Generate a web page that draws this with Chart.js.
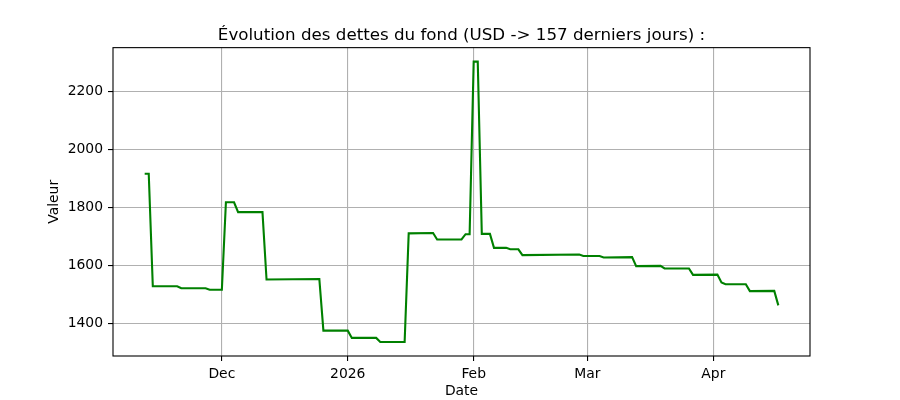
<!DOCTYPE html>
<html>
<head>
<meta charset="utf-8">
<script src="https://cdn.jsdelivr.net/npm/chart.js@4"></script>
<style>
  html, body { margin: 0; padding: 0; background: #fff; }
  #wrap { width: 900px; height: 400px; }
</style>
</head>
<body>
<div id="wrap"><canvas id="chart" width="900" height="400"></canvas></div>
<script>
// breakpoints of the daily series (the line is straight between them)
const dates = [
  '2025-11-12', '2025-11-13', '2025-11-14', '2025-11-20', '2025-11-21', '2025-11-27', '2025-11-28',
  '2025-12-01', '2025-12-02', '2025-12-04', '2025-12-05', '2025-12-11', '2025-12-12', '2025-12-25',
  '2025-12-26', '2026-01-01', '2026-01-02', '2026-01-08', '2026-01-09', '2026-01-15', '2026-01-16',
  '2026-01-22', '2026-01-23', '2026-01-29', '2026-01-30', '2026-01-31', '2026-02-01', '2026-02-02',
  '2026-02-03', '2026-02-05', '2026-02-06', '2026-02-09', '2026-02-10', '2026-02-12', '2026-02-13',
  '2026-02-27', '2026-02-28', '2026-03-04', '2026-03-05', '2026-03-12', '2026-03-13', '2026-03-19',
  '2026-03-20', '2026-03-26', '2026-03-27', '2026-04-02', '2026-04-03', '2026-04-04', '2026-04-09',
  '2026-04-10', '2026-04-16', '2026-04-17'
];
const debts = [
  1916, 1916, 1529, 1529, 1522, 1522, 1517,
  1517, 1818, 1818, 1784, 1784, 1552, 1554,
  1376, 1376, 1351, 1351, 1337, 1337, 1711,
  1712, 1690, 1690, 1708, 1708, 2302, 2302,
  1709, 1709, 1661, 1661, 1656, 1656, 1636,
  1638, 1633, 1633, 1628, 1629, 1598, 1599,
  1590, 1590, 1568, 1569, 1542, 1536, 1536,
  1512, 1513, 1463
];
const tickDates = ['2025-12-01', '2026-01-01', '2026-02-01', '2026-03-01', '2026-04-01'];
const tickLabels = ['Dec', '2026', 'Feb', 'Mar', 'Apr'];
const yTicks = [1400, 1600, 1800, 2000, 2200];

const DAY = 86400000;
const toDay = (s) => {
  const [y, m, d] = s.split('-').map(Number);
  return Date.UTC(y, m - 1, d) / DAY;
};

const points = dates.map((d, i) => ({ x: toDay(d), y: debts[i] }));
const tickDays = tickDates.map(toDay);

// matplotlib-like 5% margins
const xs = points.map(p => p.x);
const ys = points.map(p => p.y);
const xMin = Math.min(...xs), xMax = Math.max(...xs);
const yMin = Math.min(...ys), yMax = Math.max(...ys);
const xPad = (xMax - xMin) * 0.05;
const yPad = (yMax - yMin) * 0.05;

const FONT = 'DejaVu Sans';
const GRID = '#b0b0b0';

const frame = {
  id: 'frame',
  afterDatasetsDraw(chart) {
    const { ctx, chartArea: a } = chart;
    ctx.save();
    ctx.strokeStyle = '#000';
    ctx.lineWidth = 1.1;
    ctx.strokeRect(a.left, a.top, a.right - a.left, a.bottom - a.top);
    ctx.restore();
  }
};

new Chart(document.getElementById('chart').getContext('2d'), {
  type: 'line',
  data: {
    datasets: [{
      data: points,
      borderColor: '#008000',
      borderWidth: 2.1,
      pointRadius: 0,
      tension: 0,
      fill: false,
    }]
  },
  options: {
    responsive: false,
    animation: false,
    layout: { padding: { left: 0, right: 90, top: 0, bottom: 0 } },
    plugins: {
      legend: { display: false },
      tooltip: { enabled: false },
      title: {
        display: true,
        text: 'Évolution des dettes du fond (USD -> 157 derniers jours) :',
        color: '#000',
        fullSize: false,
        font: { family: FONT, size: 16.7, weight: 'normal' },
        padding: { top: 26, bottom: 1.6 },
      },
    },
    scales: {
      x: {
        type: 'linear',
        min: xMin - xPad,
        max: xMax + xPad,
        afterBuildTicks: (s) => { s.ticks = tickDays.map(v => ({ value: v })); },
        afterFit: (s) => { s.height = 44; },
        ticks: {
          autoSkip: false,
          maxRotation: 0,
          padding: 5,
          color: '#000',
          font: { family: FONT, size: 13.9 },
          callback: (v, i) => tickLabels[i],
        },
        grid: { color: GRID, lineWidth: 1.1, tickColor: '#000', tickLength: 5, tickWidth: 1.1 },
        border: { display: false },
        title: {
          display: true,
          text: 'Date',
          color: '#000',
          font: { family: FONT, size: 13.9 },
          padding: { top: 0, bottom: 0 },
        },
      },
      y: {
        min: yMin - yPad,
        max: yMax + yPad,
        afterBuildTicks: (s) => { s.ticks = yTicks.map(v => ({ value: v })); },
        afterFit: (s) => { s.width = 113; },
        ticks: {
          padding: 5,
          color: '#000',
          font: { family: FONT, size: 13.9 },
          callback: (v) => String(v),
        },
        grid: { color: GRID, lineWidth: 1.1, tickColor: '#000', tickLength: 5, tickWidth: 1.1 },
        border: { display: false },
        title: {
          display: true,
          text: 'Valeur',
          color: '#000',
          font: { family: FONT, size: 13.9 },
          padding: { top: 46, bottom: 0 },
        },
      },
    },
  },
  plugins: [frame],
});
</script>
</body>
</html>
